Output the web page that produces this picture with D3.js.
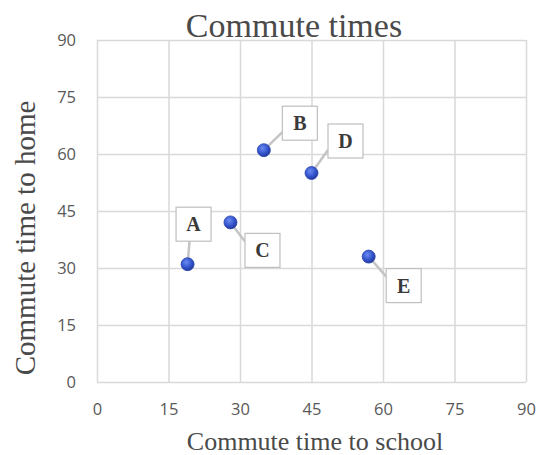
<!DOCTYPE html>
<html>
<head>
<meta charset="utf-8">
<script src="https://cdn.jsdelivr.net/npm/d3@7"></script>
<style>
  html, body { margin: 0; padding: 0; background: #fff; }
  svg { display: block; }
</style>
</head>
<body>
<div id="chart"></div>
<script>
// ---- data ----
const names = ["A", "B", "C", "D", "E"];
const schoolTimes = [19, 35, 28, 45, 57];
const homeTimes = [31, 61, 42, 55, 33];
const tickValues = [0, 15, 30, 45, 60, 75, 90];
const chartTitle = "Commute times";
const xTitle = "Commute time to school";
const yTitle = "Commute time to home";

// ---- layout ----
const W = 547, H = 455;
const plot = { left: 97, right: 526, top: 40, bottom: 382 };
// label box offset (px) from its point, per label
const labelOffsets = {
  A: [6, -40], B: [36, -27], C: [32, 28], D: [34, -32], E: [35, 29]
};
const boxW = 35, boxH = 34;

const svg = d3.select("#chart").append("svg")
  .attr("width", W).attr("height", H);

const x = d3.scaleLinear().domain([0, 90]).range([plot.left, plot.right]);
const y = d3.scaleLinear().domain([0, 90]).range([plot.bottom, plot.top]);

// gridlines
const xGrid = d3.axisBottom(x).tickValues(tickValues)
  .tickSize(-(plot.bottom - plot.top)).tickFormat("");
const yGrid = d3.axisLeft(y).tickValues(tickValues)
  .tickSize(-(plot.right - plot.left)).tickFormat("");
svg.append("g").attr("transform", `translate(0,${plot.bottom})`).call(xGrid)
  .call(g => g.select(".domain").remove())
  .call(g => g.selectAll("line").attr("stroke", "#d9d9d9").attr("stroke-width", 1.5));
svg.append("g").attr("transform", `translate(${plot.left},0)`).call(yGrid)
  .call(g => g.select(".domain").remove())
  .call(g => g.selectAll("line").attr("stroke", "#d9d9d9").attr("stroke-width", 1.5));

// tick labels
const xAxis = d3.axisBottom(x).tickValues(tickValues).tickSize(0).tickPadding(21);
svg.append("g").attr("transform", `translate(0,${plot.bottom})`).call(xAxis)
  .call(g => g.select(".domain").remove())
  .call(g => g.selectAll("text")
    .attr("font-family", "'Open Sans', 'Liberation Sans', sans-serif")
    .attr("font-size", 16.5).attr("fill", "#595959"));
const yAxis = d3.axisLeft(y).tickValues(tickValues).tickSize(0).tickPadding(21);
svg.append("g").attr("transform", `translate(${plot.left},0)`).call(yAxis)
  .call(g => g.select(".domain").remove())
  .call(g => g.selectAll("text")
    .attr("font-family", "'Open Sans', 'Liberation Sans', sans-serif")
    .attr("font-size", 16.5).attr("fill", "#595959"));

// titles
svg.append("text").attr("x", 294).attr("y", 37)
  .attr("text-anchor", "middle")
  .attr("font-family", "'Liberation Serif', 'Times New Roman', serif")
  .attr("font-size", 34).attr("fill", "#4a4a4a").text(chartTitle);
svg.append("text").attr("x", 315).attr("y", 450)
  .attr("text-anchor", "middle")
  .attr("font-family", "'Liberation Serif', 'Times New Roman', serif")
  .attr("font-size", 26).attr("fill", "#4a4a4a").text(xTitle);
svg.append("text").attr("transform", "translate(35,238) rotate(-90)")
  .attr("text-anchor", "middle")
  .attr("font-family", "'Liberation Serif', 'Times New Roman', serif")
  .attr("font-size", 29).attr("fill", "#4a4a4a").text(yTitle);

// marker gradient
const defs = svg.append("defs");
const grad = defs.append("radialGradient").attr("id", "dot")
  .attr("cx", "40%").attr("cy", "35%").attr("r", "65%");
grad.append("stop").attr("offset", "0%").attr("stop-color", "#6b8cf0");
grad.append("stop").attr("offset", "60%").attr("stop-color", "#3556cf");
grad.append("stop").attr("offset", "100%").attr("stop-color", "#23399a");

const pts = names.map((n, i) => ({ name: n, sx: schoolTimes[i], hy: homeTimes[i] }));

// callouts
const callouts = svg.append("g");
pts.forEach(d => {
  const px = x(d.sx), py = y(d.hy);
  const [dx, dy] = labelOffsets[d.name];
  const cx = px + dx, cy = py + dy;
  const bx = cx - boxW / 2, by = cy - boxH / 2;
  let ex, ey;
  if (Math.abs(dx) < boxW / 2) { ex = px + 2; ey = dy < 0 ? by + boxH : by; }
  else {
    ex = dx > 0 ? bx : bx + boxW;
    ey = dy < 0 ? by + boxH - 8 : by + 8;
  }
  callouts.append("line")
    .attr("x1", px).attr("y1", py).attr("x2", ex).attr("y2", ey)
    .attr("stroke", "#c4c4c4").attr("stroke-width", 2.5);
  callouts.append("rect")
    .attr("x", bx).attr("y", by).attr("width", boxW).attr("height", boxH)
    .attr("fill", "#fff").attr("stroke", "#bfbfbf").attr("stroke-width", 1.2);
  callouts.append("text")
    .attr("x", cx).attr("y", cy + 7)
    .attr("text-anchor", "middle")
    .attr("font-family", "'Liberation Serif', 'Times New Roman', serif")
    .attr("font-weight", "bold").attr("font-size", 20).attr("fill", "#3a3a3a")
    .text(d.name);
});

// points
svg.append("g").selectAll("circle").data(pts).join("circle")
  .attr("cx", d => x(d.sx)).attr("cy", d => y(d.hy)).attr("r", 6.5)
  .attr("fill", "url(#dot)").attr("stroke", "#2a45b0").attr("stroke-width", 0.8);
</script>
</body>
</html>
